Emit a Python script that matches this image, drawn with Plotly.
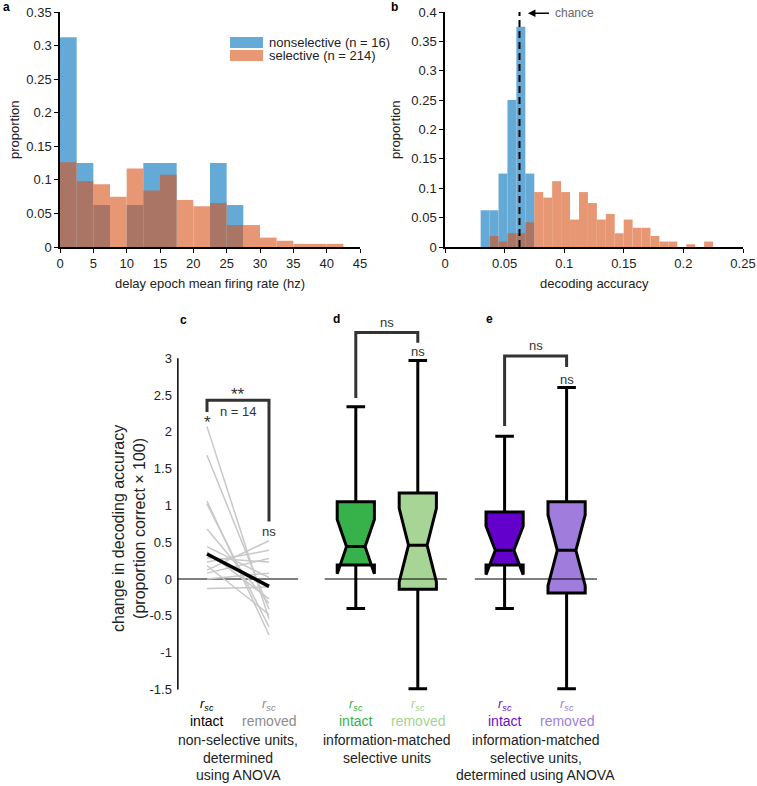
import plotly.graph_objects as go

W, H = 757, 786

# ---------------- Panel a: delay epoch firing rate histogram ----------------
A_BIN_LEFT = [0, 2.5, 5, 7.5, 10, 12.5, 15, 17.5, 20, 22.5, 25, 27.5, 30, 32.5, 35, 37.5, 40]
A_BIN_WIDTH = 2.5
A_NONSEL = [0.3125, 0.125, 0.0625, 0, 0.0625, 0.125, 0.125, 0, 0, 0.125, 0.0625, 0, 0, 0, 0, 0, 0]
A_SEL = [0.1262, 0.0981, 0.0935, 0.0748, 0.1168, 0.0841, 0.1075, 0.0701, 0.0607, 0.0654,
         0.0327, 0.0327, 0.0140, 0.0093, 0.0047, 0.0047, 0.0047]
A_XTICKS = [0, 5, 10, 15, 20, 25, 30, 35, 40, 45]
A_YTICKS = [0, 0.05, 0.1, 0.15, 0.2, 0.25, 0.3, 0.35]
A_YTICKTEXT = ["0", "0.05", "0.1", "0.15", "0.2", "0.25", "0.3", "0.35"]
LEGEND_LABELS = ["nonselective (n = 16)", "selective (n = 214)"]

# ---------------- Panel b: decoding accuracy histogram ----------------
B_BIN_WIDTH = 0.0075
B_NONSEL_LEFT = [0.0299, 0.0374, 0.0449, 0.0524, 0.0599, 0.0674]
B_NONSEL = [0.0625, 0.0625, 0.125, 0.25, 0.375, 0.125]
B_SEL_LEFT = [0.0374, 0.0449, 0.0524, 0.0599, 0.0674, 0.0749, 0.0824, 0.0899, 0.0974, 0.1049,
              0.1124, 0.1199, 0.1274, 0.1349, 0.1424, 0.1499, 0.1574, 0.1649, 0.1724, 0.1799,
              0.1874, 0.1949, 0.2024, 0.2099, 0.2174]
B_SEL = [0.0187, 0.0093, 0.0234, 0.0234, 0.0421, 0.0935, 0.0841, 0.1121, 0.0935, 0.0467,
         0.0935, 0.0748, 0.0467, 0.0561, 0.0234, 0.0467, 0.0327, 0.0327, 0.0187, 0.0093,
         0.0093, 0, 0.0047, 0, 0.0093]
CHANCE = 0.0625
B_XTICKS = [0, 0.05, 0.1, 0.15, 0.2, 0.25]
B_XTICKTEXT = ["0", "0.05", "0.1", "0.15", "0.2", "0.25"]
B_YTICKS = [0, 0.05, 0.1, 0.15, 0.2, 0.25, 0.3, 0.35, 0.4]
B_YTICKTEXT = ["0", "0.05", "0.1", "0.15", "0.2", "0.25", "0.3", "0.35", "0.4"]

# ---------------- Panel c: paired non-selective units ----------------
C_INTACT = [2.07, 1.68, 1.06, 1.02, 0.68, 0.44, 0.37, 0.29, 0.23, 0.18, 0.12, 0.08, 0.0, -0.13]
C_REMOVED = [-0.54, -0.41, -0.76, -0.65, -0.33, 0.02, -0.27, 0.23, 0.39, -0.48, 0.52, 0.28, 0.08, -0.11]
C_MEDIAN = [0.34, -0.10]

# ---------------- Panels d, e: box statistics ----------------
BOX_NAMES = ["d intact", "d removed", "e intact", "e removed"]
BOX_LOW = [-0.40, -1.49, -0.40, -1.49]
BOX_Q1 = [0.19, -0.14, 0.19, -0.19]
BOX_MED = [0.44, 0.46, 0.39, 0.39]
BOX_Q3 = [1.05, 1.17, 0.91, 1.05]
BOX_HIGH = [2.34, 2.97, 1.94, 2.60]
BOX_NOTCH = [0.37, 0.50, 0.33, 0.48]

C_YTICKS = [-1.5, -1, -0.5, 0, 0.5, 1, 1.5, 2, 2.5, 3]
C_YTICKTEXT = ["-1.5", "-1", "-0.5", "0", "0.5", "1", "1.5", "2", "2.5", "3"]

# positions (layout) of the six conditions on the shared lower axis
POS = {"c1": 0.0, "c2": 1.0, "d1": 2.4, "d2": 3.4, "e1": 4.8, "e2": 5.8}
BOX_POS = [POS["d1"], POS["d2"], POS["e1"], POS["e2"]]

BLUE = "rgb(0,114,189)"
ORANGE = "rgb(217,83,25)"
BOX_FILL = ["#37b24a", "#a6d596", "#6400cc", "#a07cdc"]
LABEL_COL = ["#000000", "#8c8c8c", "#37b24a", "#a3d491", "#6a0dcc", "#a07fdb"]

FONT = "Liberation Sans, Arial, sans-serif"


def py(p):
    return 1 - p / H


def px(p):
    return p / W


fig = go.Figure()

# panel a bars
fig.add_trace(go.Bar(x=[l + A_BIN_WIDTH / 2 for l in A_BIN_LEFT], y=A_NONSEL, width=A_BIN_WIDTH,
                     marker=dict(color=BLUE, line=dict(width=0)), opacity=0.6, xaxis="x", yaxis="y"))
fig.add_trace(go.Bar(x=[l + A_BIN_WIDTH / 2 for l in A_BIN_LEFT], y=A_SEL, width=A_BIN_WIDTH,
                     marker=dict(color=ORANGE, line=dict(width=0)), opacity=0.6, xaxis="x", yaxis="y"))

# panel b bars
fig.add_trace(go.Bar(x=[l + B_BIN_WIDTH / 2 for l in B_NONSEL_LEFT], y=B_NONSEL, width=B_BIN_WIDTH,
                     marker=dict(color=BLUE, line=dict(width=0)), opacity=0.6, xaxis="x2", yaxis="y2"))
fig.add_trace(go.Bar(x=[l + B_BIN_WIDTH / 2 for l in B_SEL_LEFT], y=B_SEL, width=B_BIN_WIDTH,
                     marker=dict(color=ORANGE, line=dict(width=0)), opacity=0.6, xaxis="x2", yaxis="y2"))
fig.add_trace(go.Scatter(x=[CHANCE, CHANCE], y=[0, 0.4], mode="lines",
                         line=dict(color="black", width=2, dash="7px,4px"), xaxis="x2", yaxis="y2"))

# panel c-e: left axis line and zero lines
fig.add_trace(go.Scatter(x=[-0.47, -0.47], y=[C_YTICKS[0], C_YTICKS[-1]], mode="lines",
                         line=dict(color="black", width=1.5), xaxis="x3", yaxis="y3"))
for x0, x1 in [(-0.47, 1.47), (1.90, 3.87), (4.32, 6.29)]:
    fig.add_trace(go.Scatter(x=[x0, x1], y=[0, 0], mode="lines",
                             line=dict(color="black", width=1.2), xaxis="x3", yaxis="y3"))

# panel c paired lines
for a, b in zip(C_INTACT, C_REMOVED):
    fig.add_trace(go.Scatter(x=[POS["c1"], POS["c2"]], y=[a, b], mode="lines",
                             line=dict(color="#c8c8c8", width=1.5), xaxis="x3", yaxis="y3"))
fig.add_trace(go.Scatter(x=[POS["c1"], POS["c2"]], y=C_MEDIAN, mode="lines",
                         line=dict(color="black", width=3.5), xaxis="x3", yaxis="y3"))

# boxes
for i in range(4):
    fig.add_trace(go.Box(x=[BOX_POS[i]], q1=[BOX_Q1[i]], median=[BOX_MED[i]], q3=[BOX_Q3[i]],
                         lowerfence=[BOX_LOW[i]], upperfence=[BOX_HIGH[i]], notchspan=[BOX_NOTCH[i]],
                         notched=True, notchwidth=0.25, whiskerwidth=0.5, width=0.6,
                         fillcolor=BOX_FILL[i], line=dict(color="black", width=3),
                         boxpoints=False, name=BOX_NAMES[i], xaxis="x3", yaxis="y3"))

# significance brackets
BR = dict(color="#333333", width=3)
fig.add_trace(go.Scatter(x=[POS["c1"], POS["c1"], POS["c2"], POS["c2"]], y=[2.27, 2.43, 2.43, 0.78],
                         mode="lines", line=BR, xaxis="x3", yaxis="y3"))
fig.add_trace(go.Scatter(x=[POS["d1"], POS["d1"], POS["d2"], POS["d2"]], y=[2.46, 3.35, 3.35, 3.21],
                         mode="lines", line=BR, xaxis="x3", yaxis="y3"))
fig.add_trace(go.Scatter(x=[POS["e1"], POS["e1"], POS["e2"], POS["e2"]], y=[2.08, 3.03, 3.03, 2.88],
                         mode="lines", line=BR, xaxis="x3", yaxis="y3"))

axis_common = dict(showline=True, linecolor="black", linewidth=1.5, ticks="outside", ticklen=4,
                   tickcolor="black", tickwidth=1, showgrid=False, zeroline=False, automargin=False,
                   tickfont=dict(size=13, color="#222"), tickmode="array")

fig.update_layout(
    template="none",
    width=W, height=H, margin=dict(l=0, r=0, t=0, b=0, pad=0), autosize=False,
    paper_bgcolor="white", plot_bgcolor="white", showlegend=False,
    barmode="overlay", boxmode="overlay",
    font=dict(family=FONT, size=13, color="#222"),
    xaxis=dict(domain=[px(60), px(360)], range=[0, 45], anchor="y", tickvals=A_XTICKS, **axis_common),
    yaxis=dict(domain=[py(247), py(12)], range=[0, 0.35], anchor="x", tickvals=A_YTICKS,
               ticktext=A_YTICKTEXT, **axis_common),
    xaxis2=dict(domain=[px(445), px(743)], range=[0, 0.25], anchor="y2", tickvals=B_XTICKS,
                ticktext=B_XTICKTEXT, **axis_common),
    yaxis2=dict(domain=[py(247), py(12)], range=[0, 0.4], anchor="x2", tickvals=B_YTICKS,
                ticktext=B_YTICKTEXT, **axis_common),
    xaxis3=dict(domain=[px(172.9), px(610)], range=[-0.55, 6.5], anchor="y3", visible=False,
                automargin=False),
    yaxis3=dict(domain=[py(696.8), py(314.0)], range=[-1.6, 3.6], anchor="x3", showline=False,
                ticks="", showgrid=False, zeroline=False, tickmode="array", tickvals=C_YTICKS,
                ticktext=C_YTICKTEXT, tickfont=dict(size=13, color="#222"), automargin=False),
)

ann = []


def T(text, x, y, xref="paper", yref="paper", size=13, color="#222", **kw):
    d = dict(text=text, x=x, y=y, xref=xref, yref=yref, showarrow=False,
             xanchor="center", yanchor="middle",
             font=dict(size=size, color=color, family=FONT))
    d.update(kw)
    ann.append(d)


# panel letters
T("<b>a</b>", px(6), py(7), size=12, color="black")
T("<b>b</b>", px(394), py(7), size=12, color="black")
T("<b>c</b>", px(183), py(320), size=12, color="black")
T("<b>d</b>", px(336), py(319), size=12, color="black")
T("<b>e</b>", px(489), py(319), size=12, color="black")

# axis titles
T("delay epoch mean firing rate (hz)", px(210), py(283))
T("proportion", px(15), py(130), textangle=-90)
T("decoding accuracy", px(594), py(283))
T("proportion", px(396), py(130), textangle=-90)
T("change in decoding accuracy<br>(proportion correct \u00d7 100)", px(129), py(529),
  textangle=-90, size=16)

# custom legend for panel a
fig.add_shape(type="rect", xref="paper", yref="paper", x0=px(230), x1=px(263), y0=py(48), y1=py(37),
              fillcolor=BLUE, opacity=0.6, line=dict(width=0))
fig.add_shape(type="rect", xref="paper", yref="paper", x0=px(230), x1=px(263), y0=py(61), y1=py(50),
              fillcolor=ORANGE, opacity=0.6, line=dict(width=0))
T(LEGEND_LABELS[0], px(267), py(42.5), xanchor="left")
T(LEGEND_LABELS[1], px(267), py(55.5), xanchor="left")

# chance arrow
ann.append(dict(text="", x=0.0696, y=0.398, xref="x2", yref="y2", ax=0.0885, ay=0.398,
                axref="x2", ayref="y2", showarrow=True, arrowhead=2, arrowsize=1, arrowwidth=1.5,
                arrowcolor="black"))
T("chance", 0.0905, 0.398, xref="x2", yref="y2", size=12, color="#666", xanchor="left")

# significance text
T("*", POS["c1"], 2.12, xref="x3", yref="y3", size=17, color="#333")
T("**", (POS["c1"] + POS["c2"]) / 2, 2.50, xref="x3", yref="y3", size=17, color="#333")
T("n = 14", 0.5, 2.27, xref="x3", yref="y3", size=13, color="#333")
T("ns", POS["c2"], 0.64, xref="x3", yref="y3", size=13, color="#333")
T("ns", (POS["d1"] + POS["d2"]) / 2, 3.48, xref="x3", yref="y3", size=13, color="#333")
T("ns", POS["d2"], 3.09, xref="x3", yref="y3", size=13, color="#333")
T("ns", (POS["e1"] + POS["e2"]) / 2, 3.17, xref="x3", yref="y3", size=13, color="#333")
T("ns", POS["e2"], 2.71, xref="x3", yref="y3", size=13, color="#333")

# condition labels
COND_KEYS = ["c1", "c2", "d1", "d2", "e1", "e2"]
COND_WORDS = ["intact", "removed", "intact", "removed", "intact", "removed"]
for k, w, col in zip(COND_KEYS, COND_WORDS, LABEL_COL):
    T("<i>r</i><sub><i>sc</i></sub>", POS[k], py(704), xref="x3", size=13, color=col)
    T(w, POS[k], py(721), xref="x3", size=14, color=col)

GROUP_LINES = [
    ["non-selective units,", "determined", "using ANOVA"],
    ["information-matched", "selective units"],
    ["information-matched", "selective units,", "determined using ANOVA"],
]
GROUP_X = [(POS["c1"] + POS["c2"]) / 2, (POS["d1"] + POS["d2"]) / 2, (POS["e1"] + POS["e2"]) / 2]
LINE_Y = [740, 757.5, 775]
for gx, lines in zip(GROUP_X, GROUP_LINES):
    for j, line in enumerate(lines):
        T(line, gx, py(LINE_Y[j]), xref="x3", size=14, color="#222")

fig.update_layout(annotations=ann)
fig.write_html("out.html", config={"displayModeBar": False},
               post_script="document.body.style.margin='0px';document.body.style.overflow='hidden';")
